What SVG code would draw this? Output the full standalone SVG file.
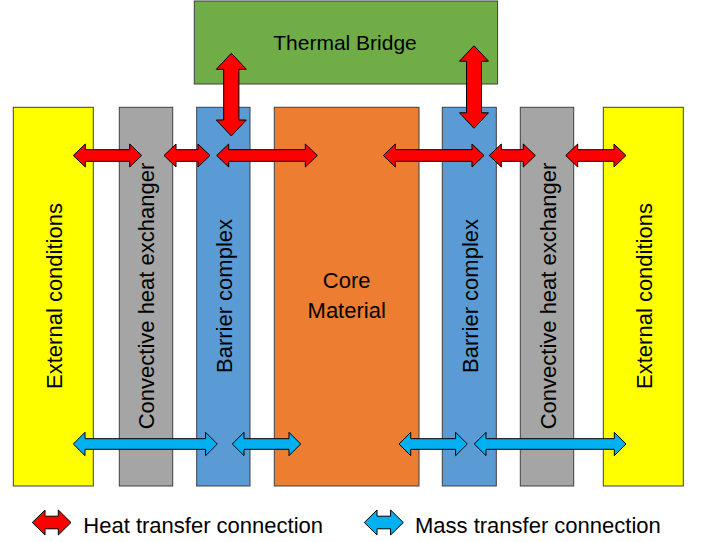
<svg xmlns="http://www.w3.org/2000/svg" width="703" height="542" viewBox="0 0 703 542">
<style>
.box{stroke:#3f3f3f;stroke-width:1}
.t{font-family:"Liberation Sans",Arial,sans-serif;font-size:22px;fill:#000;text-anchor:middle}
.heat{fill:#ff0000;stroke:#000;stroke-width:1;stroke-linejoin:miter}
.mass{fill:#00b0f0;stroke:#000;stroke-width:1;stroke-linejoin:miter}
</style>
<rect width="703" height="542" fill="#fff"/>
<g id="thermal-bridge">
<rect class="box" x="194.3" y="1" width="303.3" height="83" fill="#70ad47"/>
<text class="t" x="345" y="50" style="font-size:21px">Thermal Bridge</text>
</g>
<g id="external-left">
<rect class="box" x="13.3" y="107.3" width="80" height="378.7" fill="#ffff00"/>
<text class="t" transform="translate(61.5,296) rotate(-90)">External conditions</text>
</g>
<g id="convective-left">
<rect class="box" x="119.3" y="107.3" width="53.4" height="378.7" fill="#a5a5a5"/>
<text class="t" transform="translate(154,296) rotate(-90)">Convective heat exchanger</text>
</g>
<g id="barrier-left">
<rect class="box" x="196.7" y="107.3" width="53.3" height="378.7" fill="#5b9bd5"/>
<text class="t" transform="translate(231.5,296) rotate(-90)">Barrier complex</text>
</g>
<g id="core">
<rect class="box" x="274.3" y="107.3" width="144.7" height="378.7" fill="#ed7d31"/>
<text class="t" x="346.7" y="288.3">Core</text>
<text class="t" x="346.7" y="318.3">Material</text>
</g>
<g id="barrier-right">
<rect class="box" x="442.3" y="107.3" width="54" height="378.7" fill="#5b9bd5"/>
<text class="t" transform="translate(478,296) rotate(-90)">Barrier complex</text>
</g>
<g id="convective-right">
<rect class="box" x="520.3" y="107.3" width="53.4" height="378.7" fill="#a5a5a5"/>
<text class="t" transform="translate(556,296) rotate(-90)">Convective heat exchanger</text>
</g>
<g id="external-right">
<rect class="box" x="603.3" y="107.3" width="80" height="378.7" fill="#ffff00"/>
<text class="t" transform="translate(651.7,296) rotate(-90)">External conditions</text>
</g>
<g id="connectors">
<polygon class="heat" points="73.3,155.5 85.3,144 85.3,149.7 129.7,149.7 129.7,144 141.7,155.5 129.7,167 129.7,161.3 85.3,161.3 85.3,167"/>
<polygon class="heat" points="164,155.5 176,144 176,149.7 198,149.7 198,144 210,155.5 198,167 198,161.3 176,161.3 176,167"/>
<polygon class="heat" points="216.7,155.5 228.7,144 228.7,149.7 305.3,149.7 305.3,144 317.3,155.5 305.3,167 305.3,161.3 228.7,161.3 228.7,167"/>
<polygon class="heat" points="383.3,155.5 395.3,144 395.3,149.7 472,149.7 472,144 484,155.5 472,167 472,161.3 395.3,161.3 395.3,167"/>
<polygon class="heat" points="489.3,155.5 501.3,144 501.3,149.7 523.3,149.7 523.3,144 535.3,155.5 523.3,167 523.3,161.3 501.3,161.3 501.3,167"/>
<polygon class="heat" points="565.7,155.5 577.7,144 577.7,149.7 614,149.7 614,144 626,155.5 614,167 614,161.3 577.7,161.3 577.7,167"/>
<polygon class="heat" points="231.3,53.3 246.3,69.3 238.9,69.3 238.9,120 246.3,120 231.3,136 216.3,120 223.7,120 223.7,69.3 216.3,69.3"/>
<polygon class="heat" points="474,45.7 488.5,61.2 481.5,61.2 481.5,112.8 488.5,112.8 474,128.3 459.5,112.8 466.5,112.8 466.5,61.2 459.5,61.2"/>
<polygon class="mass" points="73.3,444 85,432.3 85,438.7 205.6,438.7 205.6,432.3 217.3,444 205.6,455.7 205.6,449.3 85,449.3 85,455.7"/>
<polygon class="mass" points="232.3,444 244,432.3 244,438.7 289,438.7 289,432.3 300.7,444 289,455.7 289,449.3 244,449.3 244,455.7"/>
<polygon class="mass" points="399,444 410.7,432.3 410.7,438.7 455.6,438.7 455.6,432.3 467.3,444 455.6,455.7 455.6,449.3 410.7,449.3 410.7,455.7"/>
<polygon class="mass" points="474.3,444 486,432.3 486,438.7 614.3,438.7 614.3,432.3 626,444 614.3,455.7 614.3,449.3 486,449.3 486,455.7"/>
</g>
<g id="legend">
<polygon class="heat" points="32.3,522.5 45,510 45,516.2 58.3,516.2 58.3,510 71,522.5 58.3,535 58.3,528.8 45,528.8 45,535"/>
<text class="t" x="83.3" y="532.7" style="text-anchor:start">Heat transfer connection</text>
<polygon class="mass" points="364.3,522.5 377,510 377,516.2 390.6,516.2 390.6,510 403.3,522.5 390.6,535 390.6,528.8 377,528.8 377,535"/>
<text class="t" x="415" y="532.7" style="text-anchor:start">Mass transfer connection</text>
</g>
</svg>
